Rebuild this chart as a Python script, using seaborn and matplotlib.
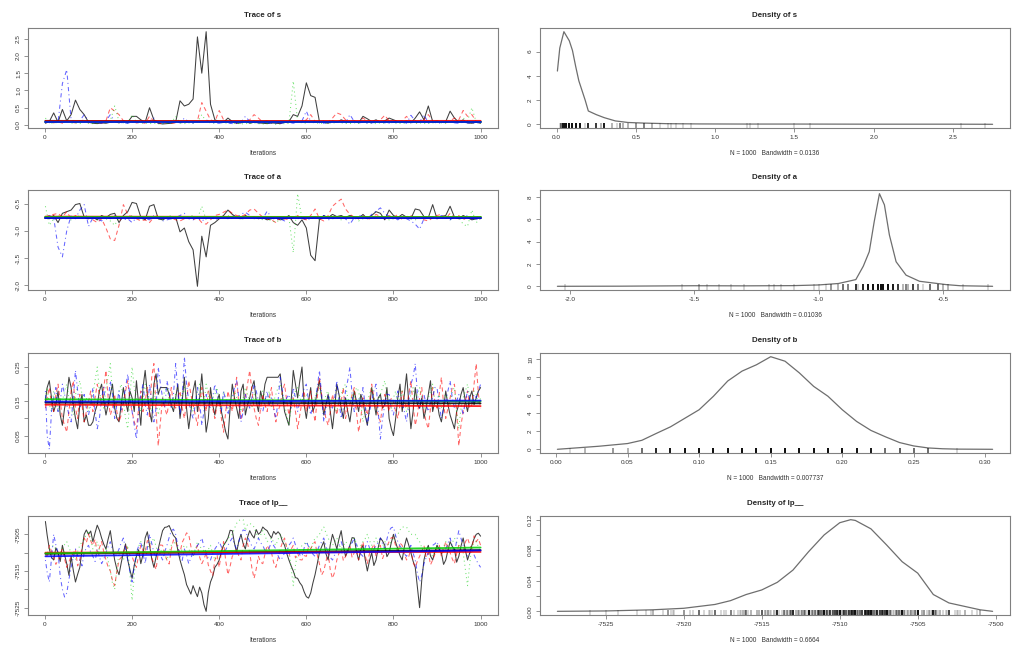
import matplotlib
matplotlib.use("Agg")
import matplotlib.pyplot as plt
import seaborn as sns

# ---------------- data ----------------
ITER = [1] + list(range(10, 1001, 10))      # s and a chains (every 10th draw)
ITER5 = [1] + list(range(5, 1001, 5))       # b and lp__ chains (every 5th draw)

# ---- s ----
S_CH1 = [0.05, 0.10, 0.35, 0.08, 0.45, 0.12, 0.30, 0.72, 0.45, 0.30,
         0.08, 0.05, 0.04, 0.06, 0.05, 0.08, 0.10, 0.06, 0.12, 0.08,
         0.25, 0.25, 0.15, 0.08, 0.50, 0.15, 0.05, 0.03, 0.04, 0.05,
         0.08, 0.70, 0.55, 0.60, 0.75, 2.55, 1.50, 2.70, 0.60, 0.15,
         0.10, 0.08, 0.20, 0.10, 0.05, 0.06, 0.12, 0.05, 0.08, 0.06,
         0.05, 0.04, 0.06, 0.05, 0.04, 0.08, 0.10, 0.30, 0.25, 0.55,
         1.22, 0.85, 0.80, 0.10, 0.08, 0.05, 0.12, 0.08, 0.15, 0.10,
         0.08, 0.12, 0.06, 0.25, 0.18, 0.10, 0.15, 0.08, 0.12, 0.20,
         0.15, 0.10, 0.08, 0.12, 0.06, 0.20, 0.38, 0.15, 0.55, 0.10,
         0.12, 0.08, 0.10, 0.40, 0.20, 0.08, 0.15, 0.06, 0.05, 0.08, 0.05]
S_CH2 = [0.08, 0.12, 0.06, 0.10, 0.05, 0.12, 0.08, 0.06, 0.10, 0.15,
         0.06, 0.10, 0.08, 0.05, 0.12, 0.50, 0.40, 0.30, 0.12, 0.08,
         0.10, 0.06, 0.08, 0.05, 0.25, 0.10, 0.06, 0.04, 0.08, 0.05,
         0.06, 0.08, 0.05, 0.10, 0.08, 0.12, 0.65, 0.40, 0.15, 0.10,
         0.42, 0.15, 0.10, 0.08, 0.06, 0.12, 0.10, 0.15, 0.30, 0.20,
         0.08, 0.12, 0.06, 0.10, 0.05, 0.08, 0.06, 0.10, 0.12, 0.08,
         0.15, 0.30, 0.10, 0.06, 0.12, 0.08, 0.20, 0.35, 0.30, 0.15,
         0.10, 0.12, 0.08, 0.20, 0.12, 0.06, 0.10, 0.15, 0.28, 0.12,
         0.08, 0.10, 0.12, 0.25, 0.10, 0.06, 0.08, 0.15, 0.30, 0.12,
         0.08, 0.10, 0.06, 0.12, 0.20, 0.15, 0.42, 0.25, 0.30, 0.10, 0.08]
S_CH3 = [0.20, 0.06, 0.05, 0.08, 0.06, 0.10, 0.05, 0.06, 0.04, 0.08,
         0.05, 0.04, 0.06, 0.05, 0.08, 0.12, 0.55, 0.10, 0.06, 0.05,
         0.30, 0.08, 0.05, 0.06, 0.04, 0.05, 0.03, 0.04, 0.05, 0.06,
         0.25, 0.05, 0.04, 0.06, 0.05, 0.08, 0.30, 0.10, 0.06, 0.05,
         0.08, 0.05, 0.06, 0.04, 0.05, 0.03, 0.04, 0.05, 0.06, 0.04,
         0.03, 0.04, 0.05, 0.02, 0.03, 0.04, 0.05, 1.27, 0.10, 0.06,
         0.05, 0.08, 0.06, 0.05, 0.04, 0.06, 0.05, 0.08, 0.06, 0.05,
         0.04, 0.06, 0.05, 0.08, 0.06, 0.05, 0.04, 0.06, 0.05, 0.08,
         0.06, 0.05, 0.04, 0.06, 0.08, 0.05, 0.06, 0.04, 0.05, 0.06,
         0.08, 0.06, 0.05, 0.10, 0.06, 0.08, 0.20, 0.12, 0.50, 0.08, 0.06]
S_CH4 = [0.10, 0.06, 0.12, 0.08, 1.20, 1.60, 0.15, 0.08, 0.12, 0.30,
         0.10, 0.06, 0.08, 0.05, 0.12, 0.30, 0.10, 0.08, 0.06, 0.05,
         0.08, 0.06, 0.10, 0.05, 0.12, 0.20, 0.06, 0.05, 0.08, 0.06,
         0.10, 0.06, 0.20, 0.08, 0.05, 0.10, 0.06, 0.15, 0.08, 0.06,
         0.05, 0.08, 0.06, 0.04, 0.05, 0.08, 0.25, 0.10, 0.12, 0.06,
         0.08, 0.05, 0.06, 0.04, 0.05, 0.06, 0.08, 0.05, 0.10, 0.12,
         0.40, 0.10, 0.08, 0.06, 0.05, 0.08, 0.06, 0.10, 0.08, 0.06,
         0.30, 0.10, 0.06, 0.08, 0.05, 0.06, 0.08, 0.12, 0.06, 0.05,
         0.08, 0.06, 0.10, 0.05, 0.28, 0.12, 0.08, 0.30, 0.06, 0.10,
         0.05, 0.06, 0.08, 0.10, 0.06, 0.05, 0.08, 0.06, 0.05, 0.06, 0.08]
S_SMOOTH_START = [0.12, 0.11, 0.08, 0.09]
S_SMOOTH_END = [0.10, 0.12, 0.08, 0.09]

# ---- a ----
A_CH1 = [-0.75, -0.78, -0.72, -0.85, -0.68, -0.65, -0.62, -0.52, -0.50, -0.75,
         -0.78, -0.75, -0.80, -0.72, -0.76, -0.70, -0.68, -0.85, -0.72, -0.65,
         -0.48, -0.50, -0.75, -0.80, -0.55, -0.52, -0.78, -0.80, -0.76, -0.78,
         -0.75, -1.02, -0.95, -1.20, -1.35, -2.02, -1.10, -1.48, -0.90, -0.85,
         -0.78, -0.72, -0.62, -0.70, -0.75, -0.78, -0.72, -0.76, -0.74, -0.78,
         -0.76, -0.80, -0.78, -0.76, -0.80, -0.78, -0.72, -0.85, -0.90, -0.80,
         -0.95, -1.45, -1.55, -0.80, -0.72, -0.76, -0.70, -0.74, -0.72, -0.76,
         -0.72, -0.75, -0.78, -0.70, -0.78, -0.72, -0.65, -0.68, -0.80, -0.62,
         -0.72, -0.76, -0.70, -0.75, -0.78, -0.60, -0.62, -0.74, -0.76, -0.52,
         -0.78, -0.74, -0.72, -0.55, -0.75, -0.78, -0.72, -0.76, -0.80, -0.78, -0.75]
A_CH2 = [-0.75, -0.72, -0.70, -0.68, -0.75, -0.65, -0.78, -0.72, -0.74, -0.78,
         -0.76, -0.80, -0.85, -0.78, -0.95, -1.15, -1.18, -0.90, -0.52, -0.70,
         -0.75, -0.78, -0.82, -0.80, -0.85, -0.75, -0.72, -0.78, -0.74, -0.76,
         -0.80, -0.82, -0.78, -0.75, -0.80, -0.76, -0.85, -0.88, -0.80, -0.72,
         -0.70, -0.66, -0.62, -0.68, -0.72, -0.74, -0.70, -0.62, -0.60, -0.68,
         -0.75, -0.78, -0.80, -0.85, -0.75, -0.78, -0.80, -0.76, -0.72, -0.78,
         -0.80, -0.72, -0.60, -0.78, -0.82, -0.72, -0.55, -0.48, -0.42, -0.60,
         -0.70, -0.75, -0.78, -0.72, -0.80, -0.76, -0.70, -0.74, -0.78, -0.72,
         -0.76, -0.70, -0.80, -0.74, -0.72, -0.78, -0.75, -0.80, -0.82, -0.76,
         -0.72, -0.70, -0.78, -0.68, -0.76, -0.72, -0.80, -0.75, -0.78, -0.74, -0.76]
A_CH3 = [-0.55, -0.90, -0.78, -0.72, -0.75, -0.78, -0.80, -0.76, -0.72, -0.78,
         -0.75, -0.76, -0.80, -0.72, -0.78, -0.82, -0.90, -0.76, -0.74, -0.78,
         -0.72, -0.76, -0.80, -0.78, -0.76, -0.74, -0.78, -0.80, -0.75, -0.72,
         -0.80, -0.76, -0.78, -0.74, -0.72, -0.78, -0.55, -0.80, -0.76, -0.78,
         -0.74, -0.76, -0.72, -0.78, -0.75, -0.80, -0.76, -0.74, -0.78, -0.76,
         -0.80, -0.78, -0.82, -0.84, -0.80, -0.78, -0.76, -1.40, -0.32, -0.78,
         -0.76, -0.78, -0.74, -0.80, -0.76, -0.72, -0.78, -0.76, -0.80, -0.74,
         -0.72, -0.76, -0.82, -0.78, -0.74, -0.76, -0.78, -0.72, -0.76, -0.80,
         -0.78, -0.74, -0.76, -0.72, -0.78, -0.80, -0.76, -0.74, -0.78, -0.76,
         -0.74, -0.78, -0.76, -0.80, -0.72, -0.76, -0.88, -0.92, -0.62, -0.85, -0.78]
A_CH4 = [-0.78, -0.72, -0.76, -1.30, -1.48, -1.00, -0.72, -0.78, -0.62, -0.52,
         -0.92, -0.76, -0.78, -0.82, -0.75, -0.78, -0.72, -0.76, -0.80, -0.78,
         -0.85, -0.76, -0.74, -0.78, -0.80, -0.72, -0.76, -0.82, -0.80, -0.78,
         -0.76, -0.72, -0.68, -0.78, -0.80, -0.76, -0.82, -0.78, -0.74, -0.80,
         -0.76, -0.74, -0.78, -0.72, -0.76, -0.70, -0.66, -0.72, -0.76, -0.74,
         -0.78, -0.64, -0.76, -0.80, -0.78, -0.82, -0.76, -0.74, -0.78, -0.76,
         -0.80, -0.78, -0.74, -0.76, -0.72, -0.80, -0.78, -0.74, -0.76, -0.78,
         -0.88, -0.76, -0.72, -0.74, -0.78, -0.70, -0.64, -0.58, -0.68, -0.74,
         -0.76, -0.80, -0.74, -0.78, -0.82, -0.88, -0.97, -0.78, -0.76, -0.74,
         -0.78, -0.72, -0.76, -0.80, -0.74, -0.78, -0.76, -0.72, -0.78, -0.80, -0.76]
A_SMOOTH_START = [-0.76, -0.74, -0.75, -0.77]
A_SMOOTH_END = [-0.76, -0.75, -0.75, -0.77]

# ---- b ----
B_CH1 = [0.15, 0.19, 0.21, 0.16, 0.12, 0.14, 0.18, 0.11, 0.08, 0.13, 0.16, 0.22, 0.19, 0.14, 0.10, 0.07, 0.14, 0.17, 0.09, 0.11,
         0.08, 0.08, 0.09, 0.12, 0.14, 0.18, 0.20, 0.15, 0.11, 0.14, 0.17, 0.20, 0.13, 0.10, 0.09, 0.14, 0.19, 0.15, 0.12, 0.18,
         0.16, 0.12, 0.21, 0.14, 0.08, 0.19, 0.24, 0.17, 0.12, 0.09, 0.20, 0.23, 0.17, 0.19, 0.19, 0.19, 0.19, 0.17, 0.14, 0.12,
         0.16, 0.20, 0.10, 0.15, 0.22, 0.13, 0.07, 0.12, 0.18, 0.21, 0.12, 0.16, 0.23, 0.15, 0.06, 0.10, 0.19, 0.14, 0.11, 0.15,
         0.17, 0.12, 0.09, 0.06, 0.04, 0.13, 0.20, 0.16, 0.13, 0.10, 0.18, 0.20, 0.11, 0.14, 0.16, 0.19, 0.21, 0.15, 0.12, 0.18,
         0.15, 0.20, 0.22, 0.22, 0.22, 0.22, 0.22, 0.22, 0.23, 0.17, 0.12, 0.10, 0.08, 0.15, 0.24, 0.20, 0.16, 0.21, 0.25, 0.14,
         0.10, 0.15, 0.19, 0.12, 0.14, 0.18, 0.21, 0.16, 0.11, 0.14, 0.17, 0.12, 0.07, 0.13, 0.20, 0.17, 0.13, 0.10, 0.16, 0.12,
         0.09, 0.14, 0.18, 0.15, 0.12, 0.17, 0.15, 0.11, 0.08, 0.13, 0.19, 0.15, 0.11, 0.16, 0.17, 0.13, 0.14, 0.19, 0.10, 0.07,
         0.05, 0.10, 0.16, 0.20, 0.12, 0.17, 0.23, 0.15, 0.07, 0.12, 0.19, 0.14, 0.13, 0.16, 0.10, 0.13, 0.17, 0.21, 0.12, 0.15,
         0.15, 0.11, 0.09, 0.13, 0.18, 0.14, 0.11, 0.09, 0.07, 0.12, 0.14, 0.17, 0.19, 0.15, 0.12, 0.16, 0.18, 0.14, 0.16, 0.18, 0.19]
B_CH2 = [0.13, 0.16, 0.19, 0.14, 0.12, 0.17, 0.20, 0.15, 0.10, 0.08, 0.06, 0.12, 0.18, 0.21, 0.13, 0.10, 0.17, 0.14, 0.09, 0.12,
         0.15, 0.18, 0.12, 0.16, 0.20, 0.17, 0.14, 0.19, 0.24, 0.16, 0.11, 0.13, 0.17, 0.12, 0.09, 0.11, 0.14, 0.18, 0.21, 0.15,
         0.12, 0.09, 0.07, 0.13, 0.18, 0.12, 0.15, 0.19, 0.10, 0.22, 0.26, 0.12, 0.02, 0.09, 0.16, 0.13, 0.11, 0.15, 0.19, 0.14,
         0.13, 0.16, 0.18, 0.13, 0.10, 0.15, 0.21, 0.17, 0.14, 0.11, 0.08, 0.14, 0.19, 0.16, 0.12, 0.18, 0.16, 0.13, 0.10, 0.14,
         0.15, 0.10, 0.06, 0.12, 0.18, 0.15, 0.12, 0.17, 0.22, 0.14, 0.10, 0.13, 0.16, 0.20, 0.24, 0.18, 0.13, 0.10, 0.08, 0.13,
         0.17, 0.14, 0.12, 0.16, 0.19, 0.13, 0.09, 0.12, 0.14, 0.18, 0.20, 0.15, 0.11, 0.14, 0.16, 0.12, 0.07, 0.11, 0.15, 0.18,
         0.12, 0.15, 0.18, 0.13, 0.09, 0.16, 0.22, 0.17, 0.13, 0.10, 0.08, 0.12, 0.17, 0.14, 0.11, 0.15, 0.15, 0.19, 0.10, 0.13,
         0.14, 0.17, 0.19, 0.12, 0.06, 0.10, 0.16, 0.13, 0.11, 0.15, 0.20, 0.16, 0.13, 0.11, 0.09, 0.14, 0.17, 0.15, 0.12, 0.16,
         0.15, 0.12, 0.10, 0.14, 0.18, 0.15, 0.13, 0.17, 0.21, 0.14, 0.08, 0.11, 0.16, 0.19, 0.12, 0.09, 0.07, 0.13, 0.19, 0.15,
         0.13, 0.17, 0.22, 0.14, 0.10, 0.13, 0.16, 0.19, 0.20, 0.12, 0.02, 0.08, 0.12, 0.15, 0.18, 0.13, 0.14, 0.20, 0.26, 0.17, 0.13]
B_CH3 = [0.16, 0.19, 0.14, 0.12, 0.18, 0.15, 0.12, 0.14, 0.15, 0.18, 0.20, 0.16, 0.13, 0.11, 0.17, 0.19, 0.21, 0.17, 0.14, 0.16,
         0.12, 0.15, 0.17, 0.21, 0.25, 0.18, 0.15, 0.13, 0.19, 0.22, 0.26, 0.17, 0.13, 0.15, 0.18, 0.20, 0.15, 0.10, 0.07, 0.16,
         0.25, 0.19, 0.16, 0.14, 0.12, 0.16, 0.20, 0.17, 0.14, 0.12, 0.18, 0.15, 0.11, 0.14, 0.16, 0.18, 0.19, 0.15, 0.13, 0.16,
         0.17, 0.15, 0.14, 0.17, 0.19, 0.16, 0.15, 0.13, 0.12, 0.15, 0.18, 0.20, 0.16, 0.14, 0.20, 0.17, 0.14, 0.16, 0.17, 0.19,
         0.15, 0.13, 0.18, 0.16, 0.13, 0.15, 0.17, 0.18, 0.16, 0.14, 0.12, 0.16, 0.19, 0.17, 0.15, 0.13, 0.17, 0.15, 0.14, 0.16,
         0.18, 0.16, 0.15, 0.18, 0.13, 0.15, 0.17, 0.19, 0.20, 0.17, 0.14, 0.11, 0.08, 0.13, 0.16, 0.18, 0.19, 0.16, 0.15, 0.17,
         0.17, 0.14, 0.13, 0.15, 0.16, 0.18, 0.19, 0.16, 0.14, 0.17, 0.18, 0.15, 0.15, 0.13, 0.12, 0.16, 0.17, 0.19, 0.20, 0.16,
         0.14, 0.17, 0.16, 0.19, 0.18, 0.14, 0.09, 0.12, 0.15, 0.17, 0.19, 0.16, 0.13, 0.15, 0.17, 0.19, 0.21, 0.17, 0.15, 0.13,
         0.16, 0.18, 0.14, 0.16, 0.18, 0.15, 0.12, 0.14, 0.17, 0.19, 0.15, 0.17, 0.19, 0.16, 0.13, 0.15, 0.16, 0.18, 0.20, 0.15,
         0.15, 0.17, 0.13, 0.16, 0.17, 0.15, 0.14, 0.18, 0.19, 0.12, 0.07, 0.13, 0.16, 0.18, 0.20, 0.16, 0.15, 0.18, 0.17, 0.14, 0.16]
B_CH4 = [0.18, 0.05, 0.01, 0.12, 0.16, 0.19, 0.12, 0.15, 0.20, 0.17, 0.14, 0.11, 0.09, 0.16, 0.24, 0.18, 0.13, 0.15, 0.17, 0.13,
         0.11, 0.14, 0.19, 0.12, 0.07, 0.10, 0.16, 0.19, 0.13, 0.15, 0.21, 0.17, 0.10, 0.14, 0.18, 0.12, 0.15, 0.19, 0.23, 0.16,
         0.12, 0.08, 0.04, 0.12, 0.17, 0.20, 0.14, 0.11, 0.20, 0.15, 0.09, 0.13, 0.25, 0.20, 0.16, 0.13, 0.21, 0.18, 0.13, 0.17,
         0.26, 0.18, 0.11, 0.16, 0.28, 0.20, 0.15, 0.12, 0.10, 0.14, 0.19, 0.15, 0.08, 0.12, 0.17, 0.14, 0.13, 0.16, 0.20, 0.17,
         0.14, 0.12, 0.18, 0.15, 0.11, 0.14, 0.16, 0.19, 0.21, 0.16, 0.09, 0.12, 0.17, 0.15, 0.13, 0.16, 0.20, 0.18, 0.15, 0.13,
         0.12, 0.15, 0.18, 0.14, 0.16, 0.13, 0.10, 0.15, 0.22, 0.18, 0.14, 0.16, 0.17, 0.13, 0.19, 0.16, 0.12, 0.15, 0.16, 0.19,
         0.20, 0.15, 0.11, 0.14, 0.15, 0.19, 0.24, 0.17, 0.09, 0.13, 0.17, 0.14, 0.13, 0.16, 0.21, 0.15, 0.10, 0.13, 0.18, 0.21,
         0.25, 0.17, 0.12, 0.15, 0.16, 0.13, 0.19, 0.14, 0.08, 0.12, 0.15, 0.18, 0.20, 0.12, 0.04, 0.10, 0.14, 0.17, 0.17, 0.13,
         0.11, 0.15, 0.18, 0.14, 0.15, 0.12, 0.09, 0.14, 0.20, 0.22, 0.26, 0.17, 0.13, 0.16, 0.17, 0.14, 0.12, 0.15, 0.16, 0.19,
         0.19, 0.14, 0.10, 0.13, 0.15, 0.18, 0.21, 0.16, 0.13, 0.15, 0.17, 0.14, 0.11, 0.15, 0.18, 0.16, 0.14, 0.17, 0.16, 0.18, 0.20]
B_SMOOTH_START = [0.146, 0.140, 0.156, 0.149]
B_SMOOTH_END = [0.144, 0.136, 0.150, 0.152]

# ---- lp__ ----
LP_CH1 = [-7501.5, -7505.2, -7509, -7511.3, -7512, -7508.7, -7510, -7512.4, -7508, -7510.6, -7513, -7516.2, -7511, -7514.8, -7518, -7515.9, -7514, -7509.3, -7505, -7503.8,
          -7505, -7504.1, -7507, -7504.6, -7502.5, -7503.9, -7506, -7507.7, -7509, -7506.3, -7504, -7508.2, -7512, -7514.5, -7516, -7512.8, -7510, -7507.6, -7512, -7514.7,
          -7517, -7513.4, -7511, -7509.2, -7513, -7510.5, -7506, -7504.3, -7508, -7511.6, -7514, -7511.2, -7509, -7506.4, -7504, -7503.1, -7503, -7502.6, -7504, -7505.3,
          -7506, -7509.4, -7512, -7514.1, -7516, -7518.7, -7520, -7521.3, -7519, -7520.6, -7522, -7519.4, -7521, -7524.2, -7526, -7520.8, -7518, -7516.5, -7514, -7513.2,
          -7512, -7509.7, -7508, -7507.1, -7506, -7503.9, -7504, -7507.4, -7510, -7506.8, -7505, -7507.6, -7509, -7505.8, -7504, -7505.2, -7506, -7503.7, -7505, -7504.4,
          -7503, -7503.6, -7504, -7505.1, -7506, -7504.2, -7505, -7504.3, -7505, -7506.9, -7508, -7510.2, -7512, -7513.6, -7515, -7516.8, -7517, -7518.2, -7519, -7520.7,
          -7522, -7522.4, -7521, -7518.3, -7516, -7513.1, -7510, -7508.4, -7507, -7510.3, -7512, -7507.8, -7505, -7506.9, -7509, -7506.2, -7504, -7508.1, -7511, -7509.6,
          -7508, -7505.9, -7506, -7509.7, -7512, -7509.3, -7508, -7511.8, -7515, -7512.2, -7510, -7513.5, -7512, -7508.6, -7506, -7506.8, -7508, -7511.1, -7510, -7507.3,
          -7505, -7507.2, -7509, -7510.8, -7512, -7508.4, -7506, -7507.9, -7510, -7512.3, -7514, -7519.6, -7525, -7517.4, -7512, -7509.5, -7508, -7510.9, -7512, -7509.8,
          -7508, -7509.1, -7510, -7513.2, -7512, -7509.4, -7507, -7508.3, -7509, -7512.6, -7511, -7508.2, -7506, -7509.3, -7512, -7510.1, -7508, -7506.2, -7505, -7504.7, -7505.5]
LP_CH2 = [-7510, -7511.4, -7508, -7509.6, -7511, -7513.2, -7512, -7510.3, -7509, -7511.7, -7514, -7512.5, -7511, -7510.2, -7509, -7513.6, -7512, -7508.4, -7506, -7507.3,
          -7505, -7506.8, -7508, -7506.4, -7510, -7508.7, -7507, -7509.8, -7512, -7513.9, -7515, -7517.6, -7519, -7515.2, -7512, -7511.3, -7510, -7508.2, -7509, -7510.7,
          -7511, -7512.8, -7514, -7510.6, -7508, -7509.3, -7510, -7506.7, -7507, -7511.4, -7513, -7514.6, -7510, -7507.9, -7508, -7510.4, -7512, -7513.1, -7509, -7506.5,
          -7507, -7508.8, -7510, -7507.2, -7506, -7504.6, -7505, -7508.3, -7511, -7509.7, -7508, -7511.2, -7513, -7511.8, -7510, -7513.4, -7515, -7516.3, -7512, -7510.6,
          -7514, -7509.8, -7507, -7512.3, -7516, -7513.7, -7511, -7510.2, -7509, -7510.9, -7512, -7508.1, -7506, -7507.5, -7510, -7514.2, -7517, -7514.4, -7511, -7512.6,
          -7513, -7510.4, -7508, -7509.2, -7510, -7512.7, -7514, -7511.5, -7509, -7507.3, -7506, -7508.6, -7511, -7509.1, -7508, -7511.4, -7510, -7511.9, -7512, -7510.8,
          -7511, -7508.4, -7509, -7507.7, -7507, -7510.6, -7513, -7516.1, -7515, -7512.4, -7510, -7514.8, -7517, -7515.3, -7512, -7510.1, -7509, -7512.2, -7511, -7509.4,
          -7508, -7511.3, -7510, -7509.1, -7512, -7508.9, -7507, -7510.8, -7513, -7510.2, -7509, -7507.6, -7511, -7509.7, -7508, -7511.6, -7510, -7508.3, -7507, -7505.9,
          -7506, -7508.1, -7510, -7507.4, -7508, -7510.3, -7512, -7511.1, -7509, -7512.7, -7514, -7512.3, -7511, -7509.6, -7508, -7511.2, -7510, -7513.3, -7512, -7510.4,
          -7509, -7507.8, -7511, -7509.2, -7507, -7508.6, -7510, -7511.7, -7513, -7510.3, -7508, -7509.4, -7510, -7507.1, -7506, -7507.8, -7509, -7505.4, -7507, -7506.2, -7508]
LP_CH3 = [-7511, -7510.2, -7509, -7508.4, -7508, -7509.1, -7510, -7510.0, -7509, -7507.8, -7507, -7508.6, -7510, -7511.2, -7512, -7509.7, -7508, -7507.1, -7506, -7505.2,
          -7504, -7506.3, -7509, -7508.1, -7507, -7509.4, -7511, -7510.3, -7509, -7512.2, -7515, -7518.4, -7520, -7514.6, -7510, -7511.3, -7512, -7510.2, -7508, -7515.7,
          -7523, -7516.1, -7510, -7508.3, -7507, -7508.2, -7509, -7508.6, -7508, -7507.1, -7506, -7508.4, -7510, -7509.6, -7509, -7510.8, -7512, -7509.9, -7508, -7507.6,
          -7507, -7508.9, -7510, -7509.1, -7508, -7508.4, -7509, -7510.2, -7511, -7509.3, -7507, -7508.2, -7509, -7509.5, -7510, -7509.1, -7508, -7510.3, -7512, -7511.1,
          -7510, -7509.2, -7508, -7507.4, -7506, -7505.6, -7505, -7503.4, -7502, -7501.2, -7501, -7501.0, -7504, -7502.3, -7502, -7502.4, -7503, -7504.7, -7506, -7505.2,
          -7504, -7505.3, -7507, -7506.6, -7506, -7507.2, -7508, -7506.4, -7505, -7506.1, -7507, -7508.3, -7509, -7514.2, -7519, -7513.4, -7510, -7509.2, -7508, -7507.6,
          -7507, -7508.1, -7509, -7507.4, -7506, -7505.7, -7505, -7503.9, -7503, -7504.6, -7506, -7507.3, -7508, -7507.1, -7506, -7507.8, -7509, -7508.2, -7507, -7507.6,
          -7508, -7507.2, -7506, -7507.4, -7509, -7508.1, -7507, -7506.2, -7505, -7506.7, -7508, -7507.1, -7506, -7507.6, -7509, -7508.3, -7507, -7507.4, -7508, -7507.0,
          -7506, -7505.4, -7505, -7503.8, -7503, -7503.0, -7503, -7504.1, -7505, -7505.0, -7505, -7506.2, -7507, -7508.6, -7510, -7509.4, -7509, -7510.2, -7511, -7509.7,
          -7508, -7509.1, -7510, -7508.4, -7507, -7508.2, -7509, -7507.3, -7506, -7507.1, -7508, -7509.2, -7510, -7514.6, -7519, -7513.1, -7508, -7507.6, -7507, -7508.4, -7510]
LP_CH4 = [-7512, -7515.3, -7518, -7511.6, -7505, -7507.9, -7510, -7516.4, -7520, -7522.1, -7521, -7517.3, -7514, -7511.2, -7509, -7510.8, -7512, -7513.6, -7510, -7508.7,
          -7508, -7509.9, -7511, -7512.4, -7509, -7511.1, -7513, -7511.8, -7510, -7508.3, -7507, -7509.2, -7511, -7510.4, -7509, -7507.3, -7506, -7509.1, -7512, -7515.2,
          -7518, -7513.6, -7510, -7508.2, -7507, -7510.3, -7513, -7508.8, -7505, -7507.4, -7510, -7511.3, -7509, -7510.6, -7512, -7509.7, -7508, -7505.9, -7504, -7503.6,
          -7505, -7508.2, -7511, -7512.1, -7509, -7510.7, -7513, -7511.4, -7510, -7509.2, -7508, -7507.3, -7506, -7508.4, -7510, -7511.6, -7512, -7510.2, -7509, -7508.1,
          -7507, -7508.4, -7510, -7509.2, -7508, -7506.9, -7506, -7507.7, -7509, -7507.1, -7505, -7503.8, -7504, -7505.6, -7507, -7508.2, -7509, -7507.6, -7506, -7507.3,
          -7508, -7509.4, -7510, -7508.6, -7507, -7508.1, -7509, -7510.8, -7512, -7511.4, -7510, -7509.3, -7508, -7507.2, -7506, -7507.9, -7509, -7510.6, -7511, -7508.7,
          -7507, -7508.3, -7509, -7510.4, -7511, -7509.6, -7508, -7507.1, -7506, -7508.2, -7510, -7511.3, -7512, -7510.6, -7509, -7508.1, -7507, -7508.8, -7510, -7509.2,
          -7508, -7507.3, -7506, -7507.9, -7509, -7510.4, -7511, -7508.6, -7507, -7508.7, -7510, -7509.1, -7508, -7507.2, -7506, -7507.6, -7509, -7506.3, -7504, -7503.2,
          -7503, -7505.4, -7507, -7508.2, -7509, -7510.3, -7511, -7509.4, -7508, -7510.1, -7512, -7515.7, -7518, -7516.2, -7513, -7511.4, -7510, -7509.2, -7508, -7507.6,
          -7507, -7508.9, -7510, -7509.6, -7509, -7507.4, -7506, -7508.3, -7510, -7506.8, -7504, -7506.1, -7508, -7509.7, -7511, -7510.2, -7509, -7510.6, -7512, -7513.1, -7514]
LP_SMOOTH_START = [-7510.3, -7510.0, -7510.2, -7511.0]
LP_SMOOTH_END = [-7509.3, -7509.8, -7508.6, -7509.4]

# ---- density curves ----
S_DENS_X = [0.005, 0.02, 0.046, 0.08, 0.10, 0.12, 0.14, 0.16, 0.18, 0.20, 0.25, 0.30,
            0.37, 0.45, 0.55, 0.70, 0.90, 1.20, 1.50, 2.00, 2.50, 2.75]
S_DENS_Y = [4.4, 6.3, 7.65, 6.9, 6.1, 4.8, 3.6, 2.8, 2.0, 1.1, 0.8, 0.55,
            0.28, 0.15, 0.10, 0.05, 0.03, 0.02, 0.02, 0.01, 0.01, 0.0]
A_DENS_X = [-2.05, -1.8, -1.5, -1.3, -1.1, -1.0, -0.92, -0.85, -0.82, -0.796, -0.776,
            -0.755, -0.735, -0.715, -0.688, -0.648, -0.594, -0.54, -0.486, -0.43, -0.30]
A_DENS_Y = [0.0, 0.01, 0.05, 0.04, 0.06, 0.12, 0.25, 0.6, 1.8, 3.1, 5.8,
            8.3, 7.3, 4.6, 2.2, 1.0, 0.45, 0.3, 0.15, 0.05, 0.0]
B_DENS_X = [0.001, 0.03, 0.05, 0.06, 0.07, 0.08, 0.09, 0.10, 0.11, 0.12, 0.13, 0.14,
            0.15, 0.16, 0.17, 0.18, 0.19, 0.20, 0.21, 0.22, 0.23, 0.24, 0.25, 0.26,
            0.27, 0.28, 0.305]
B_DENS_Y = [0.0, 0.34, 0.64, 1.0, 1.76, 2.5, 3.45, 4.4, 5.9, 7.6, 8.7, 9.4,
            10.3, 9.8, 8.5, 7.0, 5.9, 4.4, 3.1, 2.1, 1.4, 0.75, 0.37, 0.15,
            0.06, 0.02, 0.0]
LP_DENS_X = [-7528.1, -7525, -7522, -7520, -7518, -7517, -7516, -7515, -7514, -7513,
             -7512, -7511, -7510, -7509.3, -7509, -7508, -7507, -7506, -7505, -7504,
             -7503, -7502, -7501, -7500.2]
LP_DENS_Y = [0.0, 0.0005, 0.002, 0.004, 0.009, 0.014, 0.022, 0.028, 0.038, 0.054,
             0.078, 0.100, 0.116, 0.120, 0.119, 0.108, 0.087, 0.065, 0.050, 0.022,
             0.011, 0.0065, 0.002, 0.0]

# ---- labels ----
PARAMS = ["s", "a", "b", "lp__"]
BANDWIDTHS = ["0.0136", "0.01036", "0.007737", "0.6664"]
N_SAMPLES = "1000"
CHAIN_COLORS = ["#000000", "#FF0000", "#00CD00", "#0000FF"]
CHAIN_STYLES = ["-", (0, (4, 3)), (0, (1, 3)), (0, (1, 3, 4, 3))]
CHAIN_ALPHA = [0.75, 0.6, 0.55, 0.6]

TRACE_XTICKS = [0, 200, 400, 600, 800, 1000]
S_TRACE_YTICKS = [0.0, 0.5, 1.0, 1.5, 2.0, 2.5]
S_TRACE_YLABELS = ["0.0", "0.5", "1.0", "1.5", "2.0", "2.5"]
A_TRACE_YTICKS = [-2.0, -1.5, -1.0, -0.5]
A_TRACE_YLABELS = ["-2.0", "-1.5", "-1.0", "-0.5"]
B_TRACE_YTICKS = [0.05, 0.10, 0.15, 0.20, 0.25]
B_TRACE_YLABELS = ["0.05", "", "0.15", "", "0.25"]
LP_TRACE_YTICKS = [-7525, -7520, -7515, -7510, -7505]
LP_TRACE_YLABELS = ["-7525", "", "-7515", "", "-7505"]

S_DENS_XTICKS = [0.0, 0.5, 1.0, 1.5, 2.0, 2.5]
S_DENS_XLABELS = ["0.0", "0.5", "1.0", "1.5", "2.0", "2.5"]
S_DENS_YTICKS = [0, 2, 4, 6]
A_DENS_XTICKS = [-2.0, -1.5, -1.0, -0.5]
A_DENS_XLABELS = ["-2.0", "-1.5", "-1.0", "-0.5"]
A_DENS_YTICKS = [0, 2, 4, 6, 8]
B_DENS_XTICKS = [0.00, 0.05, 0.10, 0.15, 0.20, 0.25, 0.30]
B_DENS_XLABELS = ["0.00", "0.05", "0.10", "0.15", "0.20", "0.25", "0.30"]
B_DENS_YTICKS = [0, 2, 4, 6, 8, 10]
LP_DENS_XTICKS = [-7525, -7520, -7515, -7510, -7505, -7500]
LP_DENS_XLABELS = ["-7525", "-7520", "-7515", "-7510", "-7505", "-7500"]
LP_DENS_YTICKS = [0.00, 0.02, 0.04, 0.06, 0.08, 0.10, 0.12]
LP_DENS_YLABELS = ["0.00", "", "0.04", "", "0.08", "", "0.12"]

# ---------------- drawing ----------------
sns.set_theme(style="white")
plt.rcParams['font.family'] = ['Liberation Sans', 'DejaVu Sans']

FIG_W, FIG_H = 1024, 651
fig = plt.figure(figsize=(FIG_W / 100, FIG_H / 100), dpi=100)

ROW_TOP = [28, 190, 353, 516]
ROW_BOT = [128, 290, 453, 615]
COL_LEFT = [28, 540]
AX_W = 470

TICK_FS = 4.6
LABEL_FS = 4.7
TITLE_FS = 5.7
BOX_COLOR = "#808080"


def make_axes(row, col):
    l = COL_LEFT[col] / FIG_W
    b = 1 - ROW_BOT[row] / FIG_H
    h = (ROW_BOT[row] - ROW_TOP[row]) / FIG_H
    return fig.add_axes([l, b, AX_W / FIG_W, h])


def style(ax, title, xlabel):
    for sp in ax.spines.values():
        sp.set_color(BOX_COLOR)
        sp.set_linewidth(0.8)
    ax.tick_params(axis="both", which="both", direction="out", length=3,
                   width=0.6, color=BOX_COLOR, labelsize=TICK_FS,
                   labelcolor="#333333", pad=2, bottom=True, left=True)
    ax.tick_params(axis="y", labelrotation=90)
    for lab in ax.get_yticklabels():
        lab.set_va("center")
    ax.set_title(title, fontsize=TITLE_FS, fontweight="bold", pad=8)
    ax.set_xlabel(xlabel, fontsize=LABEL_FS, color="#333333", labelpad=7)
    ax.set_ylabel("")
    ax.grid(False)


def pad_lim(lo, hi):
    d = (hi - lo) * 0.04
    return lo - d, hi + d


def trace(row, iters, chains, sm_start, sm_end, name, yticks, ylabels):
    ax = make_axes(row, 0)
    for ch, col, ls, al in zip(chains, CHAIN_COLORS, CHAIN_STYLES, CHAIN_ALPHA):
        sns.lineplot(x=iters, y=ch, color=col, linestyle=ls, linewidth=0.75,
                     alpha=al, ax=ax, sort=False, estimator=None)
    for s0, s1, col in zip(sm_start, sm_end, CHAIN_COLORS):
        sns.lineplot(x=[iters[0], iters[-1]], y=[s0, s1], color=col,
                     linewidth=1.3, alpha=0.85, ax=ax, sort=False, estimator=None)
    ax.set_xlim(*pad_lim(iters[0], iters[-1]))
    lo = min(min(c) for c in chains)
    hi = max(max(c) for c in chains)
    ax.set_ylim(*pad_lim(lo, hi))
    ax.set_xticks(TRACE_XTICKS)
    ax.set_xticklabels([str(t) for t in TRACE_XTICKS])
    ax.set_yticks(yticks)
    ax.set_yticklabels(ylabels)
    style(ax, f"Trace of {name}", "Iterations")


def density(row, dx, dy, pooled, name, bw, xticks, xlabels, yticks, ylabels):
    ax = make_axes(row, 1)
    sns.lineplot(x=dx, y=dy, color="#6e6e6e", linewidth=0.9, ax=ax,
                 sort=False, estimator=None)
    sns.rugplot(x=pooled, height=0.055, color="#111111", linewidth=0.3,
                alpha=0.8, ax=ax)
    ax.set_xlim(*pad_lim(min(dx), max(dx)))
    ax.set_ylim(*pad_lim(0, max(dy)))
    ax.set_xticks(xticks)
    ax.set_xticklabels(xlabels)
    ax.set_yticks(yticks)
    ax.set_yticklabels(ylabels)
    style(ax, f"Density of {name}", f"N = {N_SAMPLES}   Bandwidth = {bw}")


S_CHAINS = [S_CH1, S_CH2, S_CH3, S_CH4]
A_CHAINS = [A_CH1, A_CH2, A_CH3, A_CH4]
B_CHAINS = [B_CH1, B_CH2, B_CH3, B_CH4]
LP_CHAINS = [LP_CH1, LP_CH2, LP_CH3, LP_CH4]
for its, chs in ((ITER, S_CHAINS), (ITER, A_CHAINS), (ITER5, B_CHAINS), (ITER5, LP_CHAINS)):
    for c in chs:
        assert len(c) == len(its), (len(c), len(its))

trace(0, ITER, S_CHAINS, S_SMOOTH_START, S_SMOOTH_END, PARAMS[0], S_TRACE_YTICKS, S_TRACE_YLABELS)
trace(1, ITER, A_CHAINS, A_SMOOTH_START, A_SMOOTH_END, PARAMS[1], A_TRACE_YTICKS, A_TRACE_YLABELS)
trace(2, ITER5, B_CHAINS, B_SMOOTH_START, B_SMOOTH_END, PARAMS[2], B_TRACE_YTICKS, B_TRACE_YLABELS)
trace(3, ITER5, LP_CHAINS, LP_SMOOTH_START, LP_SMOOTH_END, PARAMS[3], LP_TRACE_YTICKS, LP_TRACE_YLABELS)

density(0, S_DENS_X, S_DENS_Y, sum(S_CHAINS, []), PARAMS[0], BANDWIDTHS[0],
        S_DENS_XTICKS, S_DENS_XLABELS, S_DENS_YTICKS, [str(t) for t in S_DENS_YTICKS])
density(1, A_DENS_X, A_DENS_Y, sum(A_CHAINS, []), PARAMS[1], BANDWIDTHS[1],
        A_DENS_XTICKS, A_DENS_XLABELS, A_DENS_YTICKS, [str(t) for t in A_DENS_YTICKS])
density(2, B_DENS_X, B_DENS_Y, sum(B_CHAINS, []), PARAMS[2], BANDWIDTHS[2],
        B_DENS_XTICKS, B_DENS_XLABELS, B_DENS_YTICKS, [str(t) for t in B_DENS_YTICKS])
density(3, LP_DENS_X, LP_DENS_Y, sum(LP_CHAINS, []), PARAMS[3], BANDWIDTHS[3],
        LP_DENS_XTICKS, LP_DENS_XLABELS, LP_DENS_YTICKS, LP_DENS_YLABELS)

fig.savefig("out.png", dpi=100, facecolor="white")
